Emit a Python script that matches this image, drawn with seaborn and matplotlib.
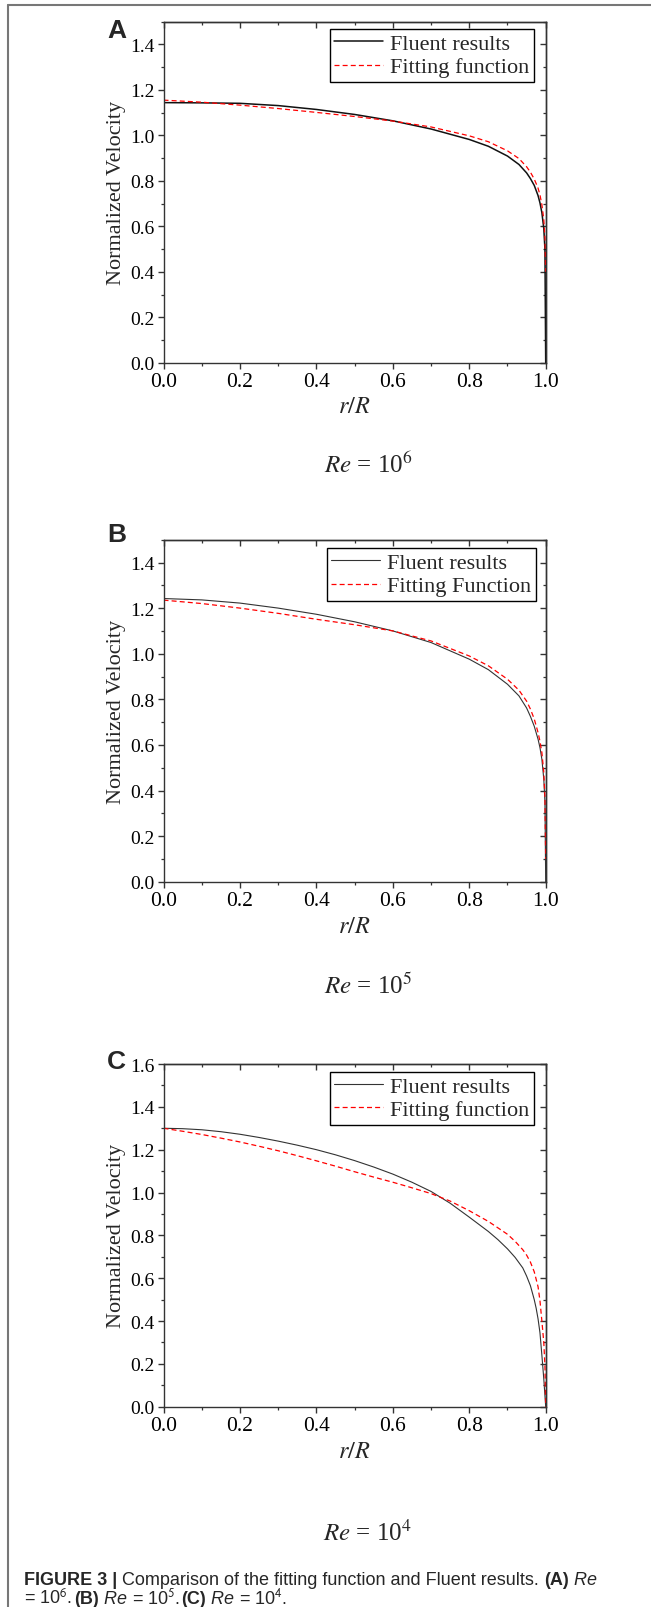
import matplotlib
matplotlib.use("Agg")
import numpy as np
import pandas as pd
import seaborn as sns
import matplotlib.pyplot as plt
from matplotlib.ticker import MultipleLocator
from matplotlib.lines import Line2D

# ---------------- data ----------------
panel_letters = ["A", "B", "C"]
re_exponents = ["6", "5", "4"]
series_names = ["Fluent results", "Fitting function"]
fit_labels = ["Fitting function", "Fitting Function", "Fitting function"]
y_max = [1.5, 1.5, 1.6]

r_A = [0.0, 0.1, 0.2, 0.3, 0.4, 0.5, 0.6, 0.7, 0.8, 0.85, 0.9, 0.93, 0.95, 0.96, 0.97, 0.98, 0.985, 0.99, 0.995, 0.998, 1.0]
fluent_A = [1.144, 1.143, 1.141, 1.131, 1.114, 1.092, 1.064, 1.028, 0.982, 0.952, 0.909, 0.872, 0.835, 0.810, 0.780, 0.735, 0.703, 0.660, 0.590, 0.500, 0.0]
fit_A = [1.155, 1.146, 1.133, 1.118, 1.101, 1.083, 1.063, 1.037, 0.998, 0.972, 0.932, 0.898, 0.862, 0.838, 0.808, 0.768, 0.738, 0.695, 0.630, 0.550, 0.40]

r_B = [0.0, 0.1, 0.2, 0.3, 0.4, 0.5, 0.6, 0.7, 0.8, 0.85, 0.9, 0.93, 0.95, 0.96, 0.97, 0.98, 0.985, 0.99, 0.995, 0.998, 1.0]
fluent_B = [1.242, 1.236, 1.222, 1.200, 1.173, 1.140, 1.100, 1.049, 0.976, 0.930, 0.866, 0.815, 0.762, 0.725, 0.682, 0.625, 0.588, 0.537, 0.450, 0.350, 0.0]
fit_B = [1.235, 1.220, 1.200, 1.177, 1.151, 1.127, 1.100, 1.056, 0.990, 0.947, 0.888, 0.840, 0.792, 0.757, 0.714, 0.654, 0.616, 0.566, 0.480, 0.370, 0.10]

r_C_fluent = [0.0, 0.05, 0.1, 0.15, 0.2, 0.25, 0.3, 0.35, 0.4, 0.45, 0.5, 0.55, 0.6, 0.65, 0.7, 0.75, 0.8, 0.85, 0.875, 0.9, 0.92, 0.94, 0.95, 0.96, 0.97, 0.975, 0.98, 0.985, 0.99, 0.995, 1.0]
fluent_C = [1.300, 1.298, 1.293, 1.284, 1.272, 1.257, 1.240, 1.221, 1.200, 1.176, 1.149, 1.119, 1.086, 1.048, 1.005, 0.950, 0.885, 0.818, 0.780, 0.737, 0.697, 0.648, 0.610, 0.565, 0.500, 0.460, 0.410, 0.345, 0.240, 0.130, 0.0]
r_C_fit = [0.0, 0.05, 0.1, 0.15, 0.2, 0.25, 0.3, 0.35, 0.4, 0.45, 0.5, 0.55, 0.6, 0.65, 0.7, 0.75, 0.8, 0.85, 0.9, 0.92, 0.94, 0.95, 0.96, 0.97, 0.98, 0.985, 0.99, 0.995, 0.998, 1.0]
fit_C = [1.300, 1.286, 1.271, 1.254, 1.236, 1.216, 1.195, 1.172, 1.148, 1.123, 1.097, 1.072, 1.048, 1.022, 0.995, 0.960, 0.915, 0.865, 0.805, 0.772, 0.733, 0.708, 0.675, 0.630, 0.560, 0.495, 0.400, 0.300, 0.190, 0.0]

# ---------------- style ----------------
sns.set_theme(style="ticks")
plt.rcParams["font.family"] = ["Liberation Serif", "DejaVu Serif"]
plt.rcParams["mathtext.fontset"] = "stix"
plt.rcParams["axes.edgecolor"] = "#333333"
plt.rcParams["axes.linewidth"] = 1.0

W, H = 651, 1608
fig = plt.figure(figsize=(W / 100, H / 100), dpi=100)

# axes boxes in pixels: (left, top, right, bottom)
boxes = [(163.5, 22.7, 545.7, 363.7), (163.5, 540.7, 545.7, 882.7), (163.5, 1065.0, 545.7, 1407.7)]
letter_y = [31, 535, 1062]
re_offset = [102, 104, 126]
legend_anchor = [(0.969, 0.978), (0.974, 0.975), (0.969, 0.977)]

datasets = [
    (r_A, fluent_A, r_A, fit_A),
    (r_B, fluent_B, r_B, fit_B),
    (r_C_fluent, fluent_C, r_C_fit, fit_C),
]
black_lw = [1.1, 0.8, 0.8]
black_col = ["#111111", "#333333", "#333333"]

for i, (l, t, r, b) in enumerate(boxes):
    ax = fig.add_axes([l / W, 1 - b / H, (r - l) / W, (b - t) / H])
    rf, vf, rt, vt = datasets[i]
    df1 = pd.DataFrame({"r": rf, "v": vf})
    df2 = pd.DataFrame({"r": rt, "v": vt})
    sns.lineplot(data=df1, x="r", y="v", ax=ax, color=black_col[i], lw=black_lw[i],
                 label=series_names[0], estimator=None, sort=False)
    sns.lineplot(data=df2, x="r", y="v", ax=ax, color="red", lw=0.9,
                 label=fit_labels[i], estimator=None, sort=False)
    ax.lines[1].set_linestyle((0, (4, 2.5)))

    ax.set_xlim(0, 1.0)
    ax.set_ylim(0, y_max[i])
    ax.xaxis.set_major_locator(MultipleLocator(0.2))
    ax.xaxis.set_minor_locator(MultipleLocator(0.1))
    ax.yaxis.set_major_locator(MultipleLocator(0.2))
    ax.yaxis.set_minor_locator(MultipleLocator(0.1))
    ax.tick_params(which="major", direction="out", length=4.5, width=1.0,
                   colors="#333333", labelcolor="black")
    ax.tick_params(axis="y", which="major", labelsize=14, pad=2)
    ax.tick_params(axis="x", which="major", labelsize=15.5, pad=2)
    ax.tick_params(which="minor", direction="out", length=2.5, width=0.9, colors="#333333")
    for s in ax.spines.values():
        s.set_visible(True)
        s.set_color("#333333")

    ax.set_xlabel(r"$r/R$", fontsize=17.5)
    ax.xaxis.label.set_va("center")
    ax.xaxis.set_label_coords(0.5, -(408 - 363.7) / 341)
    ax.set_ylabel("Normalized Velocity", fontsize=16)
    ax.yaxis.label.set_va("center")
    ax.yaxis.set_label_coords((116 - 163.5) / 382.2, 0.5)

    # mirrored inward ticks on top and right
    secx = ax.secondary_xaxis("top")
    secx.xaxis.set_major_locator(MultipleLocator(0.2))
    secx.xaxis.set_minor_locator(MultipleLocator(0.1))
    secx.tick_params(which="major", direction="in", length=4.5, width=1.0, labeltop=False, colors="#333333")
    secx.tick_params(which="minor", direction="in", length=2.5, width=0.9, colors="#333333")
    secy = ax.secondary_yaxis("right")
    secy.yaxis.set_major_locator(MultipleLocator(0.2))
    secy.yaxis.set_minor_locator(MultipleLocator(0.1))
    secy.tick_params(which="major", direction="in", length=4.5, width=1.0, labelright=False, colors="#333333")
    secy.tick_params(which="minor", direction="in", length=2.5, width=0.9, colors="#333333")

    leg = ax.legend(loc="upper right", bbox_to_anchor=legend_anchor[i], borderaxespad=0,
                    fontsize=16, frameon=True, fancybox=False, shadow=False,
                    handlelength=2.2, handletextpad=0.32, borderpad=0.2, labelspacing=0.12)
    leg.get_frame().set_edgecolor("black")
    leg.get_frame().set_linewidth(1.0)
    leg.get_frame().set_alpha(1)

    # panel letter
    fig.text(116.7 / W, 1 - letter_y[i] / H, panel_letters[i], ha="center", va="center",
             fontsize=19, fontweight="bold", family=["Liberation Sans", "DejaVu Sans"])
    # Re caption
    fig.text(368 / W, 1 - (b + re_offset[i]) / H, r"$Re$ = 10$^{%s}$" % re_exponents[i],
             ha="center", va="center", fontsize=18)

# figure caption
cap_font = ["Liberation Sans Narrow", "Liberation Sans", "DejaVu Sans"]
fig.canvas.draw()
renderer = fig.canvas.get_renderer()


def place(prev, txt, **kw):
    bb = prev.get_window_extent(renderer=renderer)
    x = bb.x1 / W
    y = prev.get_position()[1]
    t = fig.text(x, y, txt, va="baseline", ha="left", fontsize=13, family=cap_font, **kw)
    fig.canvas.draw()
    return t


t1 = fig.text(24 / W, 1 - 1585 / H, "FIGURE 3 |", fontsize=13, fontweight="bold",
              family=cap_font, va="baseline", ha="left")
fig.canvas.draw()
t = place(t1, " Comparison of the fitting function and Fluent results. ")
t = place(t, "(A)", fontweight="bold")
t = place(t, " Re", fontstyle="italic")

t2 = fig.text(24 / W, 1 - 1604 / H, r"= 10$^{\mathsf{6}}$. ", fontsize=13, family=cap_font,
              va="baseline", ha="left")
fig.canvas.draw()
t = place(t2, "(B)", fontweight="bold")
t = place(t, " Re", fontstyle="italic")
t = place(t, r" = 10$^{\mathsf{5}}$. ")
t = place(t, "(C)", fontweight="bold")
t = place(t, " Re", fontstyle="italic")
t = place(t, r" = 10$^{\mathsf{4}}$.")

# outer frame lines
fig.add_artist(Line2D([8 / W, 1], [1 - 6 / H, 1 - 6 / H], color="#777777", lw=1.5))
fig.add_artist(Line2D([8 / W, 8 / W], [0, 1 - 6 / H], color="#777777", lw=1.5))

fig.savefig("out.png", dpi=100)
